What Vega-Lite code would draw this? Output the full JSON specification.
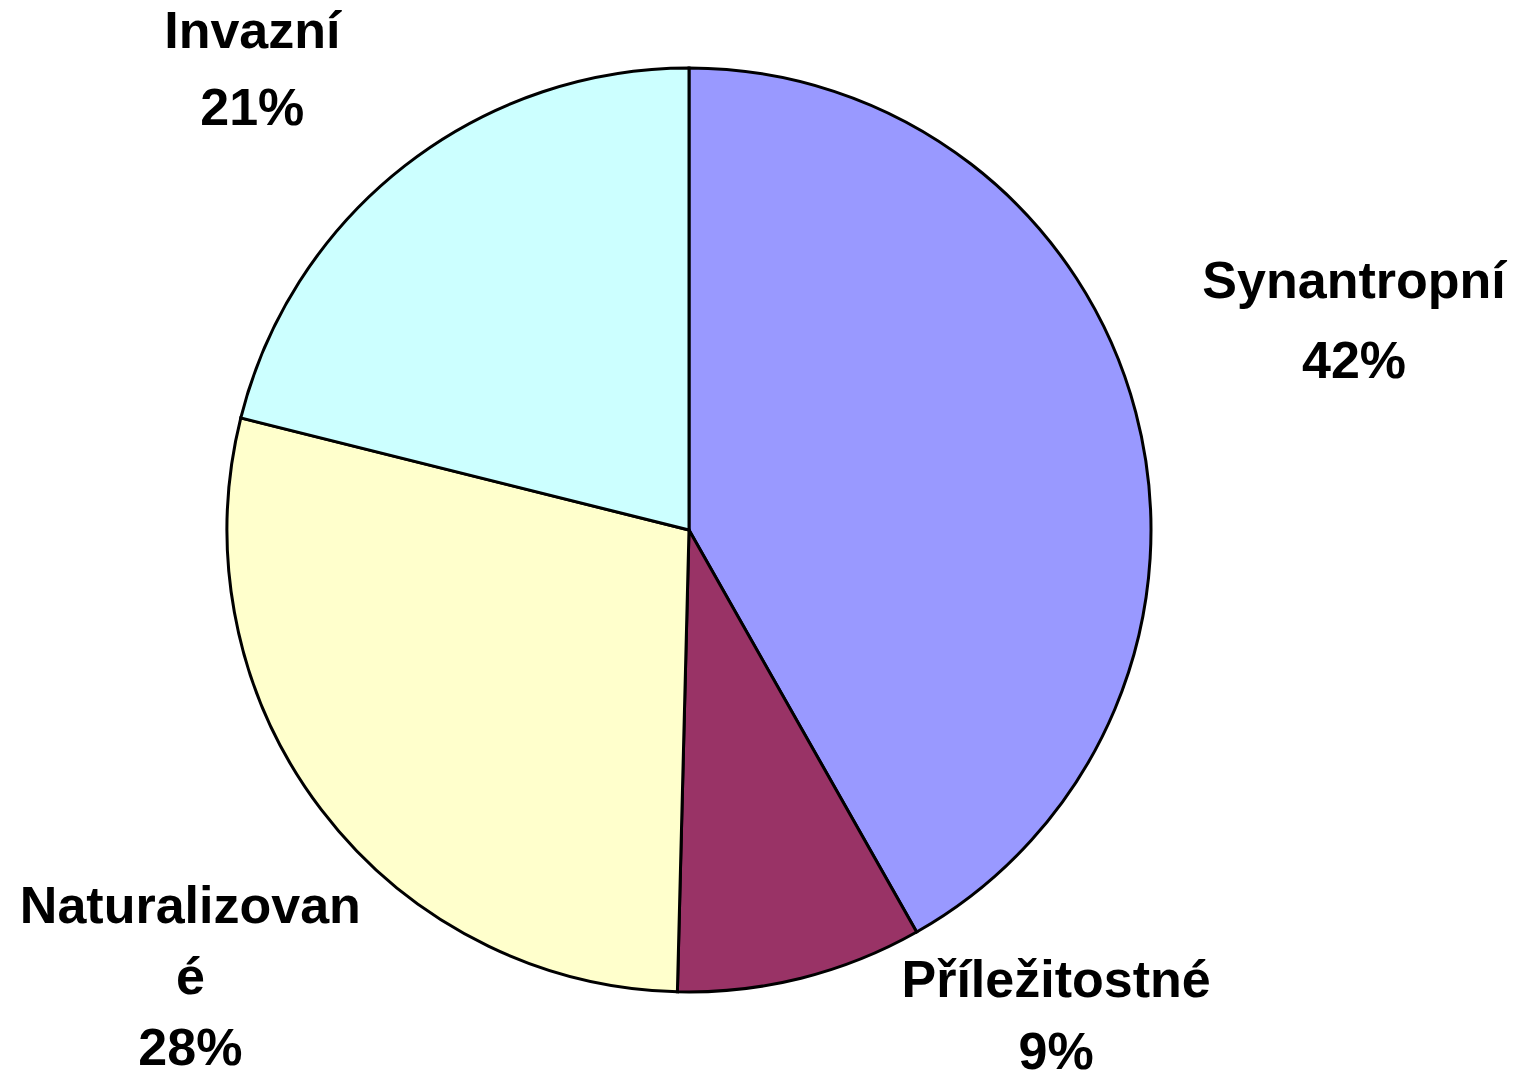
{
  "$schema": "https://vega.github.io/schema/vega-lite/v6.json",
  "width": 1378,
  "height": 1060,
  "autosize": {"type": "none"},
  "padding": {"left": 0, "top": 0, "right": 141, "bottom": 20},
  "background": "white",
  "view": {"stroke": null},
  "data": {
    "values": [
      {"category": "Synantropní", "value": 41.8, "label": ["Synantropní", "42%"]},
      {"category": "Příležitostné", "value": 8.6, "label": ["Příležitostné", "9%"]},
      {"category": "Naturalizované", "value": 28.5, "label": ["Naturalizovan", "é", "28%"]},
      {"category": "Invazní", "value": 21.1, "label": ["Invazní", "21%"]}
    ]
  },
  "encoding": {
    "theta": {"field": "value", "type": "quantitative", "stack": true},
    "order": {"field": "category", "sort": "descending"},
    "detail": {"field": "category", "type": "nominal"}
  },
  "layer": [
    {
      "mark": {"type": "arc", "outerRadius": 462, "stroke": "black", "strokeWidth": 3},
      "encoding": {
        "color": {
          "field": "category",
          "type": "nominal",
          "scale": {
            "domain": ["Synantropní", "Příležitostné", "Naturalizované", "Invazní"],
            "range": ["#9999FF", "#993366", "#FFFFCC", "#CCFFFF"]
          },
          "legend": null
        }
      }
    },
    {
      "mark": {"type": "text", "radius": 696, "dx": -8, "dy": -71, "font": "Liberation Sans", "fontWeight": "bold", "fontSize": 52, "lineHeight": 80, "align": "center", "baseline": "middle", "fill": "black"},
      "encoding": {"text": {"condition": {"test": "datum.category === 'Synantropní'", "field": "label"}, "value": ""}}
    },
    {
      "mark": {"type": "text", "radius": 565, "dx": 230, "dy": -97, "font": "Liberation Sans", "fontWeight": "bold", "fontSize": 52, "lineHeight": 72, "align": "center", "baseline": "middle", "fill": "black"},
      "encoding": {"text": {"condition": {"test": "datum.category === 'Příležitostné'", "field": "label"}, "value": ""}}
    },
    {
      "mark": {"type": "text", "radius": 668, "dx": 33, "dy": -27, "font": "Liberation Sans", "fontWeight": "bold", "fontSize": 52, "lineHeight": 71, "align": "center", "baseline": "middle", "fill": "black"},
      "encoding": {"text": {"condition": {"test": "datum.category === 'Naturalizované'", "field": "label"}, "value": ""}}
    },
    {
      "mark": {"type": "text", "radius": 630, "dx": -49, "dy": -1, "font": "Liberation Sans", "fontWeight": "bold", "fontSize": 52, "lineHeight": 77, "align": "center", "baseline": "middle", "fill": "black"},
      "encoding": {"text": {"condition": {"test": "datum.category === 'Invazní'", "field": "label"}, "value": ""}}
    }
  ]
}
